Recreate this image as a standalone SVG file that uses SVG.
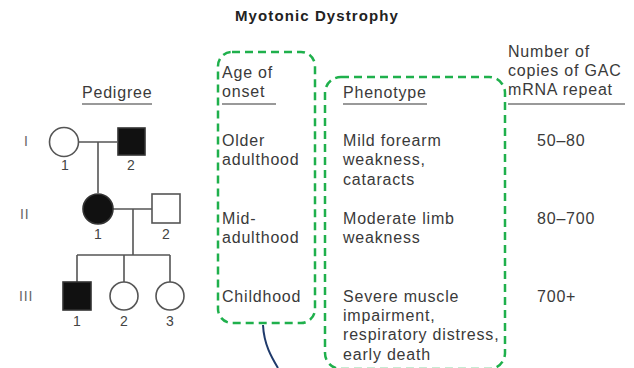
<svg xmlns="http://www.w3.org/2000/svg" width="634" height="368" viewBox="0 0 634 368">
<style>
text{font-family:"Liberation Sans",Arial,sans-serif;font-size:16px;letter-spacing:0.8px;fill:#3a3a3a}
.title{font-weight:bold;font-size:15px;letter-spacing:1.1px;fill:#222}
.gen{fill:#666;font-size:14px}
.num{font-size:14px;letter-spacing:0;fill:#444;text-anchor:middle}
.ul{stroke:#999;stroke-width:2}
.ped{stroke:#555;stroke-width:1.6;fill:none}
.aff{fill:#111;stroke:#333;stroke-width:1.6}
.unaff{fill:#fff;stroke:#555;stroke-width:1.6}
.box{fill:none;stroke:#1fb04c;stroke-width:2.5;stroke-dasharray:8 5}
</style>
<rect width="634" height="368" fill="#fff"/>
<text class="title" x="317" y="21" text-anchor="middle">Myotonic Dystrophy</text>
<g id="headers">
<text x="82" y="98">Pedigree</text>
<line class="ul" x1="82" y1="104" x2="152" y2="104"/>
<text x="222" y="78">Age of</text>
<text x="222" y="97">onset</text>
<line class="ul" x1="222" y1="104" x2="276" y2="104"/>
<text x="343" y="98">Phenotype</text>
<line class="ul" x1="343" y1="104" x2="427" y2="104"/>
<text x="508" y="57">Number of</text>
<text x="508" y="76">copies of GAC</text>
<text x="508" y="95">mRNA repeat</text>
<line class="ul" x1="508" y1="104" x2="625" y2="104"/>
</g>
<g id="generations">
<text class="gen" x="24" y="146">I</text>
<text class="gen" x="20" y="219">II</text>
<text class="gen" x="19" y="301">III</text>
</g>
<g id="connectors">
<path class="ped" d="M79 142H117M98 142V193M113 209H152M133 209V255M77 255H170M77 255V282M124 255V282M170 255V282"/>
<path d="M263 325C264 345 272 358 278 368" fill="none" stroke="#1f3a6b" stroke-width="2"/>
</g>
<g id="I-1"><circle class="unaff" cx="64" cy="142" r="14.5"/><text class="num" x="65" y="170">1</text></g>
<g id="I-2"><rect class="aff" x="118" y="128" width="27" height="27"/><text class="num" x="131" y="170">2</text></g>
<g id="II-1"><circle class="aff" cx="98" cy="209" r="15"/><text class="num" x="98" y="239">1</text></g>
<g id="II-2"><rect class="unaff" x="152" y="194" width="28" height="29"/><text class="num" x="166" y="239">2</text></g>
<g id="III-1"><rect class="aff" x="63" y="282" width="28" height="28"/><text class="num" x="77" y="326">1</text></g>
<g id="III-2"><circle class="unaff" cx="124" cy="296" r="14"/><text class="num" x="124" y="326">2</text></g>
<g id="III-3"><circle class="unaff" cx="170" cy="296" r="14"/><text class="num" x="170" y="326">3</text></g>
<g id="age-box">
<rect class="box" x="218" y="52" width="97" height="271" rx="14"/>
<text x="222" y="146">Older</text>
<text x="222" y="165">adulthood</text>
<text x="222" y="224">Mid-</text>
<text x="222" y="243">adulthood</text>
<text x="222" y="302">Childhood</text>
</g>
<g id="phenotype-box">
<rect class="box" x="325" y="77" width="180" height="292" rx="16"/>
<text x="343" y="146">Mild forearm</text>
<text x="343" y="165">weakness,</text>
<text x="343" y="185">cataracts</text>
<text x="343" y="224">Moderate limb</text>
<text x="343" y="243">weakness</text>
<text x="343" y="302">Severe muscle</text>
<text x="343" y="321">impairment,</text>
<text x="343" y="340">respiratory distress,</text>
<text x="343" y="360">early death</text>
</g>
<g id="repeats">
<text x="537" y="146">50–80</text>
<text x="537" y="224">80–700</text>
<text x="537" y="302">700+</text>
</g>
</svg>
